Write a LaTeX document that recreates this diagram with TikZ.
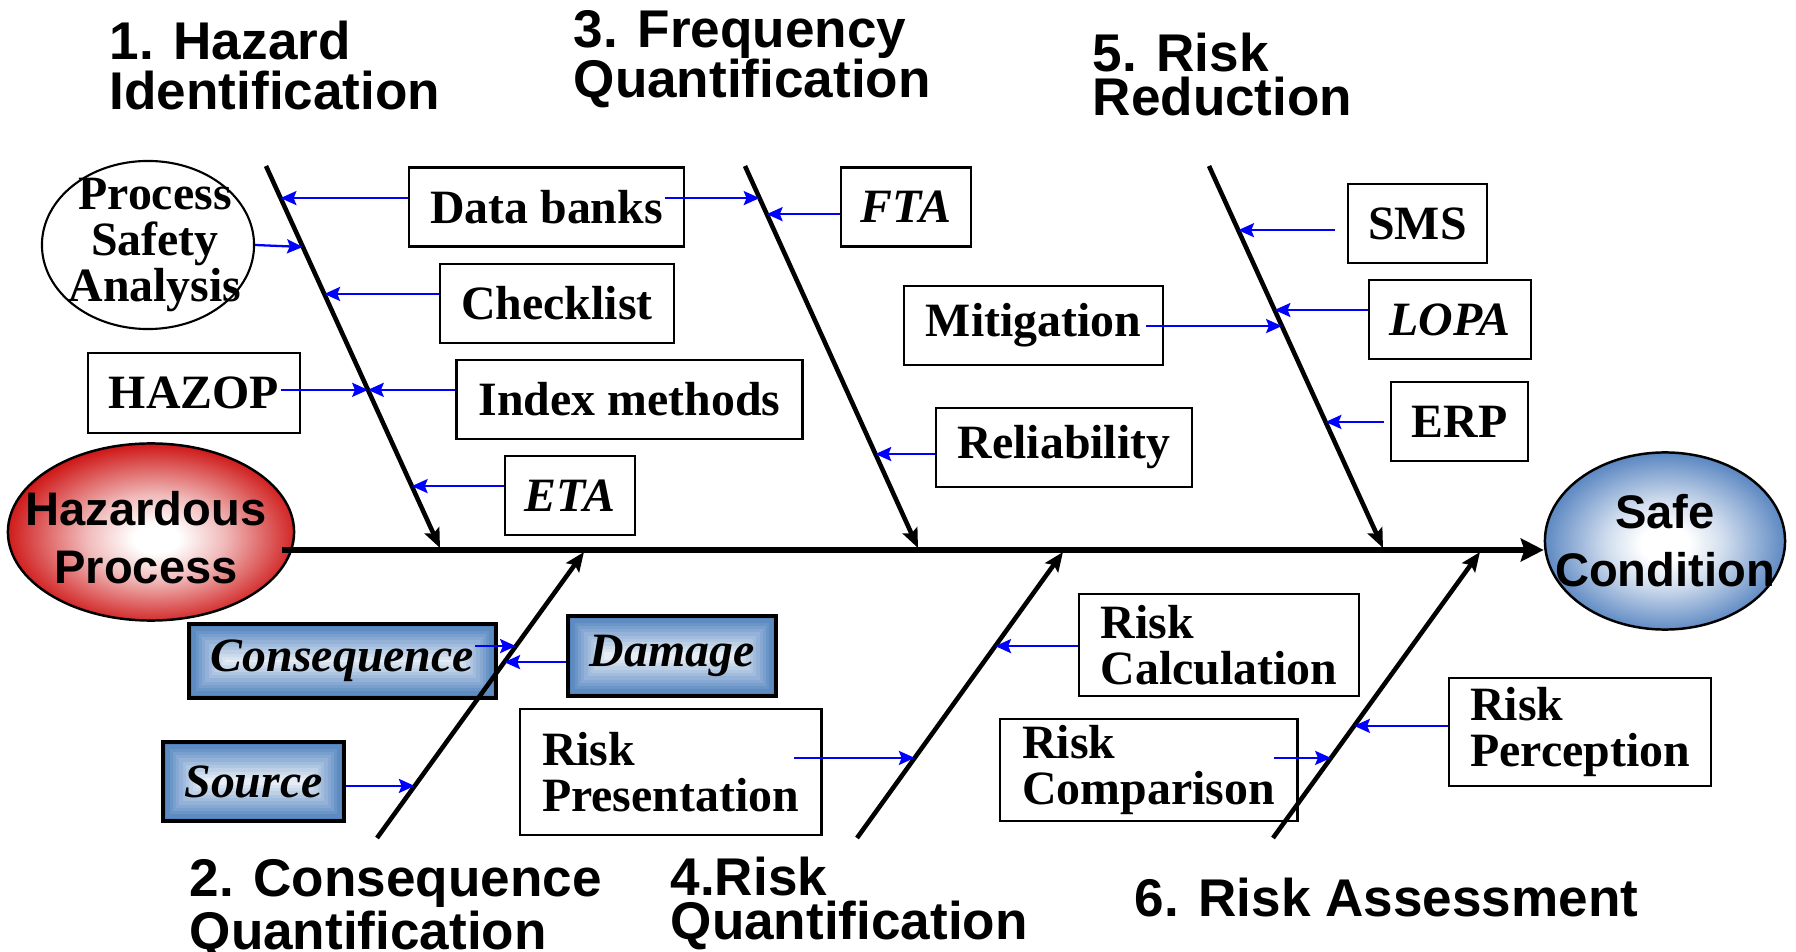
\documentclass[tikz,border=0pt]{standalone}
\usepackage{fontspec}
\setmainfont{Liberation Serif}
\setsansfont{Liberation Sans}
\usetikzlibrary{calc, shapes, arrows.meta, positioning}

\definecolor{hazred}{RGB}{204,10,10}
\definecolor{safeblue}{RGB}{76,124,188}
\definecolor{gboxblue}{RGB}{79,129,189}
\definecolor{feedblue}{RGB}{0,0,255}
\colorlet{hazpink}{white!72!hazred}
\colorlet{safepale}{white!75!safeblue}

\pgfdeclareradialshading{hazglow}{\pgfpoint{1bp}{-2bp}}{color(0bp)=(white); color(4bp)=(white); color(12bp)=(hazpink); color(27bp)=(hazred); color(50bp)=(hazred)}
\pgfdeclareradialshading{safeglow}{\pgfpoint{0bp}{-1bp}}{color(0bp)=(white); color(5bp)=(white); color(12bp)=(safepale); color(27bp)=(safeblue); color(50bp)=(safeblue)}

\begin{document}
\begin{tikzpicture}[x=0.01cm, y=-0.01cm,
        box/.style={rectangle, draw, line width=0.8pt, fill=white, inner sep=0pt, minimum height=0.79cm, align=left, font=\bfseries\fontsize{13.6}{13.1}\selectfont},
        gbox/.style={rectangle, draw=black, line width=1pt, inner sep=0pt, minimum height=0.79cm, font=\bfseries\itshape\fontsize{13.6}{13.1}\selectfont,
            path picture={\foreach \k in {0,...,11}{
                \pgfmathsetmacro\tint{\k*7.8}
                \fill[white!\tint!gboxblue] ($(path picture bounding box.south west)+(\k*0.033cm,\k*0.033cm)$) rectangle ($(path picture bounding box.north east)-(\k*0.033cm,\k*0.033cm)$);}}},
        blob/.style={ellipse, draw, line width=0.7pt, inner sep=0pt},
        blobtext/.style={align=center, inner sep=0pt, font=\sffamily\bfseries\fontsize{13.4}{16.5}\selectfont},
        psatext/.style={align=center, inner sep=0pt, font=\bfseries\fontsize{13.6}{13.1}\selectfont},
        title/.style={anchor=north west, inner sep=0pt, align=left, font=\sffamily\bfseries\fontsize{15.1}{#1}\selectfont},
        title/.default=12.5pt,
        bone/.style={draw, line width=1.3pt, -{Stealth[length=5.5pt,width=4.5pt,inset=1pt]}},
        spine/.style={draw, line width=1.8pt, -{Stealth[length=6.5pt,width=6.5pt,inset=1pt]}},
        line/.style={draw=feedblue, line width=0.65pt, -{Stealth[length=4.5pt,width=4pt,inset=0.8pt]}}]

    \useasboundingbox (0,0) rectangle (1796,952);

    % head and tail
    \node[blob, shading=hazglow, minimum width=2.86cm, minimum height=1.77cm,
        label={[blobtext, xshift=-0.05cm, yshift=-0.06cm]center:Hazardous\\Process}] (hp) at (151,532) {};
    \node[blob, shading=safeglow, minimum width=2.40cm, minimum height=1.77cm,
        label={[blobtext]center:Safe\\Condition}] (sc) at (1665,541) {};
    \node[blob, fill=white, line width=0.6pt, minimum width=2.12cm, minimum height=1.68cm,
        label={[psatext, xshift=0.07cm]center:Process\\Safety\\Analysis}] (psa) at (148,245) {};

    % upper boxes
    \node[box, minimum width=2.75cm] (db) at (546.5,207) {Data banks};
    \node[box, minimum width=2.34cm] (ck) at (557,303.5) {Checklist};
    \node[box, minimum width=3.45cm] (im) at (629.5,399.5) {Index methods};
    \node[box, minimum width=1.30cm] (eta) at (570,495.5) {\itshape ETA};
    \node[box, minimum width=2.12cm, minimum height=0.80cm] (hz) at (194,393) {HAZOP};
    \node[box, minimum width=1.30cm] (fta) at (906,207) {\itshape FTA};
    \node[box, minimum width=2.59cm] (mit) at (1033.5,325.5) {Mitigation};
    \node[box, minimum width=2.56cm] (rel) at (1064,447.5) {Reliability};
    \node[box, minimum width=1.39cm] (sms) at (1417.5,223.5) {SMS};
    \node[box, minimum width=1.62cm] (lopa) at (1450,319.5) {\itshape LOPA};
    \node[box, minimum width=1.37cm] (erp) at (1459.5,421.5) {ERP};

    % lower boxes
    \node[gbox, minimum width=3.07cm, minimum height=0.74cm] (cq) at (342.5,661) {Consequence};
    \node[gbox, minimum width=2.08cm, minimum height=0.80cm] (dmg) at (672,656) {Damage};
    \node[gbox, minimum width=1.81cm] (src) at (253.5,781.5) {Source};
    \node[box, minimum width=3.01cm, minimum height=1.26cm] (rp) at (670.5,772) {Risk\\Presentation};
    \node[box, minimum width=2.80cm, minimum height=1.02cm] (rc) at (1219,645) {Risk\\Calculation};
    \node[box, minimum width=2.97cm, minimum height=1.02cm] (rcm) at (1148.5,770) {Risk\\Comparison};
    \node[box, minimum width=2.62cm, minimum height=1.08cm] (rpc) at (1580,732) {Risk\\Perception};

    % bones
    \coordinate (b1t) at (266,166);  \coordinate (b1h) at (440,548);
    \coordinate (b3t) at (745,166);  \coordinate (b3h) at (918,548);
    \coordinate (b5t) at (1209,166); \coordinate (b5h) at (1383,548);
    \coordinate (b2t) at (377,838);  \coordinate (b2h) at (584,552);
    \coordinate (b4t) at (857,838);  \coordinate (b4h) at (1063,552);
    \coordinate (b6t) at (1273,838); \coordinate (b6h) at (1480,552);
    \coordinate (sp0) at ($(hp.east)+(-13,18)$);
    \coordinate (sp1) at ($(sc.west)+(0,9)$);

    \path[spine] (sp0) -- (sp1);
    \path[bone] (b1t) -- (b1h);
    \path[bone] (b3t) -- (b3h);
    \path[bone] (b5t) -- (b5h);
    \path[bone] (b2t) -- (b2h);
    \path[bone] (b4t) -- (b4h);
    \path[bone] (b6t) -- (b6h);

    % where the causes meet the bones
    \coordinate (q1) at ($(b1t)!0.084!(b1h)$);
    \coordinate (q2) at ($(b1t)!0.212!(b1h)$);
    \coordinate (q3) at ($(b1t)!0.335!(b1h)$);
    \coordinate (q4) at ($(b1t)!0.586!(b1h)$);
    \coordinate (q5) at ($(b1t)!0.838!(b1h)$);
    \coordinate (r1) at ($(b3t)!0.084!(b3h)$);
    \coordinate (r2) at ($(b3t)!0.126!(b3h)$);
    \coordinate (r3) at ($(b3t)!0.754!(b3h)$);
    \coordinate (s1) at ($(b5t)!0.168!(b5h)$);
    \coordinate (s2) at ($(b5t)!0.377!(b5h)$);
    \coordinate (s3) at ($(b5t)!0.419!(b5h)$);
    \coordinate (s4) at ($(b5t)!0.670!(b5h)$);
    \coordinate (u1) at ($(b2t)!0.671!(b2h)$);
    \coordinate (u2) at ($(b2t)!0.615!(b2h)$);
    \coordinate (u3) at ($(b2t)!0.182!(b2h)$);
    \coordinate (v1) at ($(b4t)!0.671!(b4h)$);
    \coordinate (v2) at ($(b4t)!0.280!(b4h)$);
    \coordinate (w1) at ($(b6t)!0.392!(b6h)$);
    \coordinate (w2) at ($(b6t)!0.280!(b6h)$);

    \path[line] (db.west |- q1) -- (q1);
    \path[line] (psa.east) -- (q2);
    \path[line] (ck.west |- q3) -- (q3);
    \path[line] ($(hz.east |- q4)+(-20,0)$) -- (q4);
    \path[line] (im.west |- q4) -- (q4);
    \path[line] (eta.west |- q5) -- (q5);
    \path[line] ($(db.east |- r1)+(-20,0)$) -- (r1);
    \path[line] (fta.west |- r2) -- (r2);
    \path[line] (rel.west |- r3) -- (r3);
    \path[line] ($(sms.west |- s1)+(-12,0)$) -- (s1);
    \path[line] (lopa.west |- s2) -- (s2);
    \path[line] ($(mit.east |- s3)+(-18,0)$) -- (s3);
    \path[line] ($(erp.west |- s4)+(-6,0)$) -- (s4);
    \path[line] ($(cq.east |- u1)+(-23,0)$) -- (u1);
    \path[line] (dmg.west |- u2) -- (u2);
    \path[line] (src.east |- u3) -- (u3);
    \path[line] (rc.west |- v1) -- (v1);
    \path[line] ($(rp.east |- v2)+(-28,0)$) -- (v2);
    \path[line] (rpc.west |- w1) -- (w1);
    \path[line] ($(rcm.east |- w2)+(-25,0)$) -- (w2);

    % step titles
    \node[title=14.2pt] (h1) at (109,20) {1. Hazard\\Identification};
    \node[title=14.2pt] (h3) at (573,10) {3. Frequency\\Quantification};
    \node[title=12.6pt] (h5) at (1092,32) {5. Risk\\Reduction};
    \node[title] (h2) at (189,859) {2. Consequence\\Quantification};
    \node[title] (h4) at (670,856) {4.Risk\\Quantification};
    \node[title] (h6) at (1134,877) {6. Risk Assessment};
\end{tikzpicture}
\end{document}
